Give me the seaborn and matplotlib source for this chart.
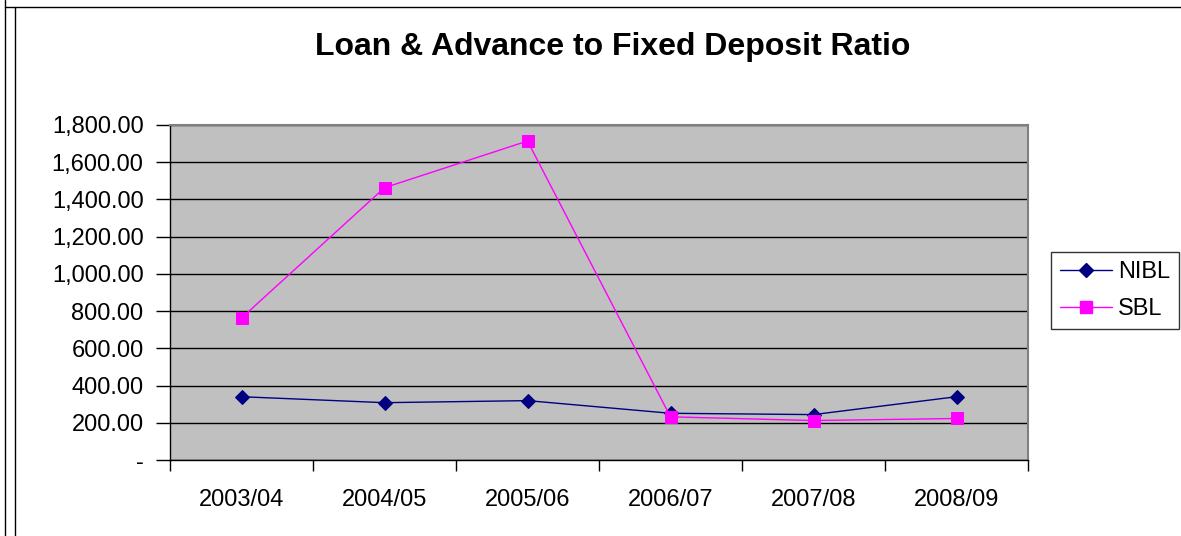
import pandas as pd
import seaborn as sns
from matplotlib import pyplot as plt
from matplotlib.lines import Line2D
from matplotlib.ticker import FuncFormatter

# data
years = ["2003/04", "2004/05", "2005/06", "2006/07", "2007/08", "2008/09"]
nibl = [340, 308, 319, 251, 244, 340]
sbl = [763, 1463, 1714, 232, 212, 223]

df = pd.DataFrame({
    "pos": list(range(len(years))) * 2,
    "value": nibl + sbl,
    "bank": ["NIBL"] * len(years) + ["SBL"] * len(years),
})

sns.set_theme(style="white")
plt.rcParams['font.family'] = ['Liberation Sans', 'DejaVu Sans']
plt.rcParams['text.color'] = 'black'

fig = plt.figure(figsize=(11.81, 5.36), dpi=100)
ax = fig.add_axes([170 / 1181, 76 / 536, 858 / 1181, 335 / 536])
ax.set_facecolor("#C0C0C0")

colors = {"NIBL": "#000080", "SBL": "#FF00FF"}
sns.lineplot(data=df, x="pos", y="value", hue="bank", style="bank",
             markers={"NIBL": "D", "SBL": "s"}, dashes=False,
             palette=colors, linewidth=1, markersize=8,
             ax=ax, legend=False, zorder=3)
# square markers slightly bigger
for ln in ax.lines:
    if ln.get_marker() == "s":
        ln.set_markersize(9)
        ln.set_markeredgecolor("#FF00FF")
    else:
        ln.set_markersize(7.5)
        ln.set_markeredgecolor("#000080")

ax.set_xlim(-0.5, len(years) - 0.5)
ax.set_ylim(0, 1800)
ax.set_yticks(range(0, 1801, 200))
ax.yaxis.set_major_formatter(FuncFormatter(lambda v, p: "-" if v == 0 else f"{v:,.2f}"))
ax.grid(axis="y", color="black", linewidth=1)
ax.set_axisbelow(True)

# category boundaries as ticks, labels centred between them
ax.set_xticks([i - 0.5 for i in range(len(years) + 1)])
ax.set_xticklabels([])
ax.set_xticks(range(len(years)), minor=True)
ax.set_xticklabels(years, minor=True)
ax.tick_params(axis="x", which="major", length=8, width=1, color="black", direction="out", bottom=True)
ax.tick_params(axis="x", which="minor", length=0, labelsize=17, pad=21, labelcolor="black")
ax.tick_params(axis="y", length=10, width=1, color="black", direction="out", left=True,
               labelsize=17, pad=9, labelcolor="black")

ax.set_xlabel("")
ax.set_ylabel("")
for side in ["top", "right"]:
    ax.spines[side].set_color("#808080")
    ax.spines[side].set_linewidth(1.5)
for side in ["left", "bottom"]:
    ax.spines[side].set_color("black")
    ax.spines[side].set_linewidth(1)

fig.text(613 / 1181, 1 - 47 / 536, "Loan & Advance to Fixed Deposit Ratio",
         ha="center", va="center", fontsize=23, fontweight="bold", color="black")

handles = [
    Line2D([], [], color="#000080", marker="D", markersize=7, linewidth=1),
    Line2D([], [], color="#FF00FF", marker="s", markersize=8, linewidth=1),
]
leg = fig.legend(handles, ["NIBL", "SBL"], loc="upper left",
                 bbox_to_anchor=(1051 / 1181, 1 - 252 / 536),
                 frameon=True, fancybox=False, fontsize=17,
                 handlelength=2.2, handletextpad=0.25, borderpad=0.38,
                 borderaxespad=0, labelspacing=0.65)
leg.get_frame().set_edgecolor("black")
leg.get_frame().set_linewidth(1)

# outer chart frame
fig.add_artist(Line2D([5 / 1181, 5 / 1181], [0, 1], color="black", linewidth=1))
fig.add_artist(Line2D([15 / 1181, 15 / 1181], [0, 1 - 7 / 536], color="black", linewidth=1))
fig.add_artist(Line2D([5 / 1181, 1], [1 - 7 / 536, 1 - 7 / 536], color="black", linewidth=1))

fig.savefig("out.png", dpi=100)
